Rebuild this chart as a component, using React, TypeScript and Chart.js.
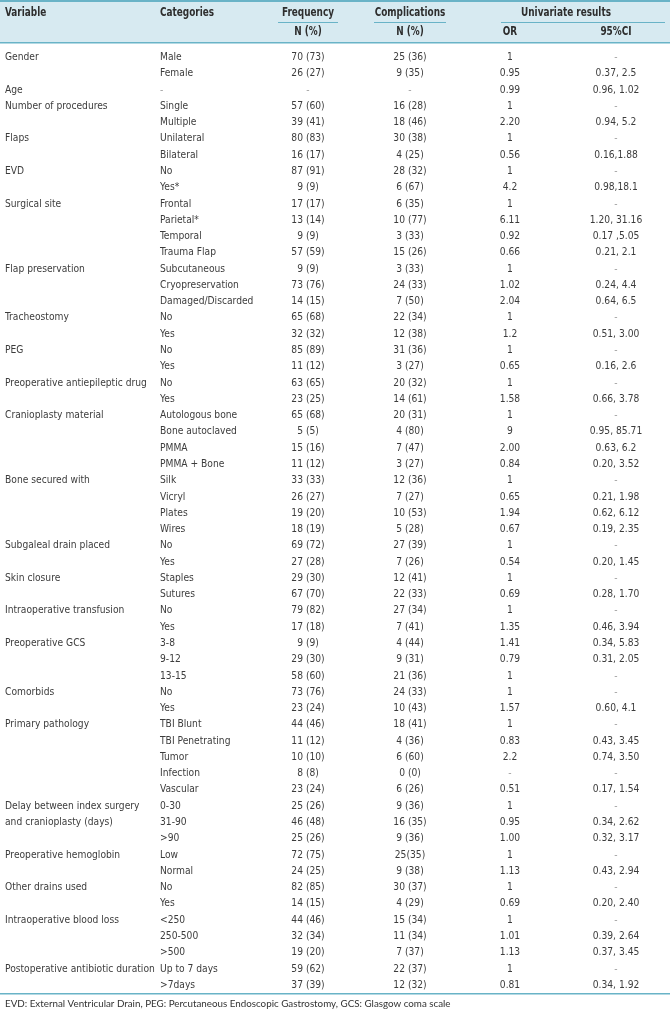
import React, { useEffect, useRef } from "react";
import { Chart, registerables } from "chart.js";

Chart.register(...registerables);

const headerTop = ["Variable", "Categories", "Frequency", "Complications", "Univariate results"];
const headerSub = ["N (%)", "N (%)", "OR", "95%CI"];

const variableLabels = [
  "Gender", "", "Age", "Number of procedures", "", "Flaps", "", "EVD", "",
  "Surgical site", "", "", "", "Flap preservation", "", "", "Tracheostomy", "",
  "PEG", "", "Preoperative antiepileptic drug", "", "Cranioplasty material", "", "", "",
  "Bone secured with", "", "", "", "Subgaleal drain placed", "", "Skin closure", "",
  "Intraoperative transfusion", "", "Preoperative GCS", "", "", "Comorbids", "",
  "Primary pathology", "", "", "", "", "Delay between index surgery", "and cranioplasty (days)", "",
  "Preoperative hemoglobin", "", "Other drains used", "", "Intraoperative blood loss", "", "",
  "Postoperative antibiotic duration", "",
];

const categories = [
  "Male", "Female", "-", "Single", "Multiple", "Unilateral", "Bilateral", "No", "Yes*",
  "Frontal", "Parietal*", "Temporal", "Trauma Flap", "Subcutaneous", "Cryopreservation", "Damaged/Discarded", "No", "Yes",
  "No", "Yes", "No", "Yes", "Autologous bone", "Bone autoclaved", "PMMA", "PMMA + Bone",
  "Silk", "Vicryl", "Plates", "Wires", "No", "Yes", "Staples", "Sutures",
  "No", "Yes", "3-8", "9-12", "13-15", "No", "Yes",
  "TBI Blunt", "TBI Penetrating", "Tumor", "Infection", "Vascular", "0-30", "31-90", ">90",
  "Low", "Normal", "No", "Yes", "<250", "250-500", ">500",
  "Up to 7 days", ">7days",
];

const frequency = [
  "70 (73)", "26 (27)", "-", "57 (60)", "39 (41)", "80 (83)", "16 (17)", "87 (91)", "9 (9)",
  "17 (17)", "13 (14)", "9 (9)", "57 (59)", "9 (9)", "73 (76)", "14 (15)", "65 (68)", "32 (32)",
  "85 (89)", "11 (12)", "63 (65)", "23 (25)", "65 (68)", "5 (5)", "15 (16)", "11 (12)",
  "33 (33)", "26 (27)", "19 (20)", "18 (19)", "69 (72)", "27 (28)", "29 (30)", "67 (70)",
  "79 (82)", "17 (18)", "9 (9)", "29 (30)", "58 (60)", "73 (76)", "23 (24)",
  "44 (46)", "11 (12)", "10 (10)", "8 (8)", "23 (24)", "25 (26)", "46 (48)", "25 (26)",
  "72 (75)", "24 (25)", "82 (85)", "14 (15)", "44 (46)", "32 (34)", "19 (20)",
  "59 (62)", "37 (39)",
];

const complications = [
  "25 (36)", "9 (35)", "-", "16 (28)", "18 (46)", "30 (38)", "4 (25)", "28 (32)", "6 (67)",
  "6 (35)", "10 (77)", "3 (33)", "15 (26)", "3 (33)", "24 (33)", "7 (50)", "22 (34)", "12 (38)",
  "31 (36)", "3 (27)", "20 (32)", "14 (61)", "20 (31)", "4 (80)", "7 (47)", "3 (27)",
  "12 (36)", "7 (27)", "10 (53)", "5 (28)", "27 (39)", "7 (26)", "12 (41)", "22 (33)",
  "27 (34)", "7 (41)", "4 (44)", "9 (31)", "21 (36)", "24 (33)", "10 (43)",
  "18 (41)", "4 (36)", "6 (60)", "0 (0)", "6 (26)", "9 (36)", "16 (35)", "9 (36)",
  "25(35)", "9 (38)", "30 (37)", "4 (29)", "15 (34)", "11 (34)", "7 (37)",
  "22 (37)", "12 (32)",
];

const oddsRatio = [
  "1", "0.95", "0.99", "1", "2.20", "1", "0.56", "1", "4.2",
  "1", "6.11", "0.92", "0.66", "1", "1.02", "2.04", "1", "1.2",
  "1", "0.65", "1", "1.58", "1", "9", "2.00", "0.84",
  "1", "0.65", "1.94", "0.67", "1", "0.54", "1", "0.69",
  "1", "1.35", "1.41", "0.79", "1", "1", "1.57",
  "1", "0.83", "2.2", "-", "0.51", "1", "0.95", "1.00",
  "1", "1.13", "1", "0.69", "1", "1.01", "1.13",
  "1", "0.81",
];

const confInterval = [
  "-", "0.37, 2.5", "0.96, 1.02", "-", "0.94, 5.2", "-", "0.16,1.88", "-", "0.98,18.1",
  "-", "1.20, 31.16", "0.17 ,5.05", "0.21, 2.1", "-", "0.24, 4.4", "0.64, 6.5", "-", "0.51, 3.00",
  "-", "0.16, 2.6", "-", "0.66, 3.78", "-", "0.95, 85.71", "0.63, 6.2", "0.20, 3.52",
  "-", "0.21, 1.98", "0.62, 6.12", "0.19, 2.35", "-", "0.20, 1.45", "-", "0.28, 1.70",
  "-", "0.46, 3.94", "0.34, 5.83", "0.31, 2.05", "-", "-", "0.60, 4.1",
  "-", "0.43, 3.45", "0.74, 3.50", "-", "0.17, 1.54", "-", "0.34, 2.62", "0.32, 3.17",
  "-", "0.43, 2.94", "-", "0.20, 2.40", "-", "0.39, 2.64", "0.37, 3.45",
  "-", "0.34, 1.92",
];

const footnote =
  "EVD: External Ventricular Drain, PEG: Percutaneous Endoscopic Gastrostomy, GCS: Glasgow coma scale";

const rowKeys = categories.map((_, i) => String(i));

const FONT = "'Liberation Sans Narrow', 'DejaVu Sans Condensed', 'Arial Narrow', sans-serif";
const TEXT = "#3c3c3c";
const DASH = "#a0a0a0";
const HEAD_BG = "#d7eaf1";
const RULE = "#69b3c7";

// column anchors on the x scale (0..670)
const COL_VAR = 5;
const COL_CAT = 160;
const COL_FREQ = 308;
const COL_COMP = 410;
const COL_OR = 510;
const COL_CI = 616;

function drawText(
  ctx: CanvasRenderingContext2D,
  s: string,
  x: number,
  y: number,
  align: CanvasTextAlign,
  sx: number
) {
  ctx.save();
  ctx.translate(x, y);
  ctx.scale(sx, 1);
  ctx.textAlign = align;
  ctx.fillText(s, 0, 0);
  ctx.restore();
}

const tablePlugin = {
  id: "tableText",
  afterDraw(chart: any) {
    const ctx = chart.ctx as CanvasRenderingContext2D;
    const xs = chart.scales.x;
    const ys = chart.scales.y;
    const W = chart.width;
    const px = (v: number) => xs.getPixelForValue(v);

    ctx.save();
    // header background
    ctx.fillStyle = HEAD_BG;
    ctx.fillRect(0, 0, W, 43);
    ctx.fillStyle = RULE;
    ctx.fillRect(0, 0, W, 2);
    ctx.fillRect(0, 42, W, 1.5);

    // header text
    const HS = 0.86;
    ctx.fillStyle = "#2e2e2e";
    ctx.font = `bold 11.5px ${FONT}`;
    ctx.textBaseline = "middle";
    drawText(ctx, headerTop[0], px(COL_VAR), 13, "left", HS);
    drawText(ctx, headerTop[1], px(COL_CAT), 13, "left", HS);
    drawText(ctx, headerTop[2], px(COL_FREQ), 13, "center", HS);
    drawText(ctx, headerTop[3], px(COL_COMP), 13, "center", HS);
    drawText(ctx, headerTop[4], px((COL_OR + COL_CI) / 2 + 3), 13, "center", HS);
    drawText(ctx, headerSub[0], px(COL_FREQ), 32, "center", HS);
    drawText(ctx, headerSub[1], px(COL_COMP), 32, "center", HS);
    drawText(ctx, headerSub[2], px(COL_OR), 32, "center", HS);
    drawText(ctx, headerSub[3], px(COL_CI), 32, "center", HS);

    // header underlines
    ctx.fillStyle = RULE;
    ctx.fillRect(px(COL_FREQ - 30), 22, px(COL_FREQ + 30) - px(COL_FREQ - 30), 1);
    ctx.fillRect(px(COL_COMP - 36), 22, px(COL_COMP + 36) - px(COL_COMP - 36), 1);
    ctx.fillRect(px(501), 22, px(665) - px(501), 1);

    // rows
    const BS = 0.91;
    ctx.font = `11.2px ${FONT}`;
    for (let i = 0; i < rowKeys.length; i++) {
      const y = ys.getPixelForValue(i);
      const put = (s: string, x: number, align: CanvasTextAlign) => {
        ctx.fillStyle = s === "-" ? DASH : TEXT;
        drawText(ctx, s, px(x), y, align, BS);
      };
      if (variableLabels[i]) put(variableLabels[i], COL_VAR, "left");
      put(categories[i], COL_CAT, "left");
      put(frequency[i], COL_FREQ, "center");
      put(complications[i], COL_COMP, "center");
      put(oddsRatio[i], COL_OR, "center");
      put(confInterval[i], COL_CI, "center");
    }

    // bottom rule + footnote
    const bottom = chart.chartArea.bottom;
    ctx.fillStyle = RULE;
    ctx.fillRect(0, bottom, W, 1.5);
    ctx.fillStyle = "#333";
    ctx.font = `9.8px Lato, 'Open Sans', sans-serif`;
    drawText(ctx, footnote, px(COL_VAR), bottom + 10.5, "left", 1);
    ctx.restore();
  },
};

export default function App() {
  const ref = useRef<HTMLCanvasElement | null>(null);

  useEffect(() => {
    document.body.style.margin = "0";
    document.documentElement.style.overflow = "hidden";
    document.body.style.background = "#ffffff";
    const canvas = ref.current;
    if (!canvas) return;
    const chart = new Chart(canvas, {
      type: "scatter",
      data: {
        labels: rowKeys,
        datasets: [
          {
            data: [],
            pointRadius: 0,
          },
        ],
      },
      options: {
        animation: false,
        responsive: false,
        devicePixelRatio: 1,
        layout: { padding: { top: 49, bottom: 19, left: 0, right: 0 } },
        plugins: { legend: { display: false }, tooltip: { enabled: false } },
        events: [],
        scales: {
          x: { type: "linear", min: 0, max: 670, display: false },
          y: { type: "category", labels: rowKeys, offset: true, display: false },
        },
      },
      plugins: [tablePlugin],
    });
    return () => chart.destroy();
  }, []);

  return (
    <div style={{ width: 670, height: 1012, background: "#fff" }}>
      <canvas ref={ref} width={670} height={1012} style={{ display: "block", width: 670, height: 1012 }} />
    </div>
  );
}
